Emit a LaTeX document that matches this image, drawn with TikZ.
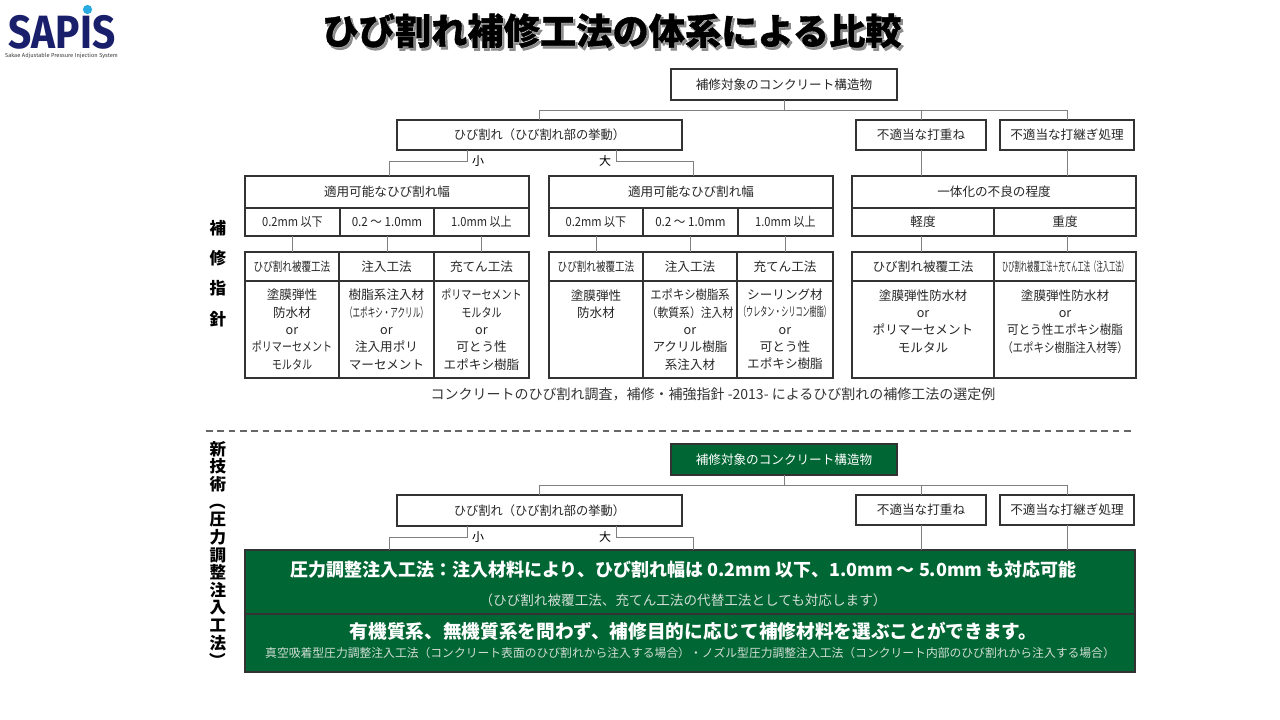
\documentclass[tikz,border=0pt]{standalone}
\usepackage{fontspec}
\setmainfont{Noto Sans CJK JP}
\newfontfamily\logofont{Fira Sans}
\newfontfamily\shadowface[BoldFeatures={FakeBold=3}]{Noto Sans CJK JP}
\newfontfamily\haloface[BoldFeatures={FakeBold=2.5}]{Noto Sans CJK JP}
\newfontfamily\titleface[BoldFeatures={FakeBold=1}]{Noto Sans CJK JP}
\definecolor{sapisgreen}{HTML}{006633}
\definecolor{sapisnavy}{HTML}{1A1F6B}
\definecolor{sapisblue}{HTML}{29ABE2}
\definecolor{palegreen}{HTML}{D3DDD6}
\tikzset{every picture/.style={x=0.75pt,y=-0.75pt,line width=1pt}}
\tikzset{box/.style 2 args={draw=black!80,line width=0.85pt,fill=white,text=black!85,minimum width=#1*0.75pt,minimum height=#2*0.75pt,inner sep=0pt,outer sep=0pt,align=center,font=\fontsize{9.45}{13}\selectfont}}
\tikzset{greenbox/.style={fill=sapisgreen,text=white}}
\tikzset{link/.style={draw=black!50,line width=0.65pt}}
\tikzset{side label/.style={align=center,inner sep=0pt,font=\bfseries\fontsize{12.4}{#1}\selectfont}}
\tikzset{panel text/.style={inner sep=0pt,text=white,font=\bfseries\fontsize{#1}{16}\selectfont}}
\tikzset{panel note/.style={inner sep=0pt,text=palegreen,font=\fontsize{#1}{12}\selectfont}}
\newcommand{\cell}[6]{\node[box={#4}{#5}] (#1) at (#2,#3) {#6};}
\newcommand{\hs}[2]{\scalebox{#1}[1]{#2}}
\newcommand{\titletext}{ひび割れ補修工法の体系による比較}
\begin{document}
\begin{tikzpicture}
    \useasboundingbox (0,0) rectangle (1280,720);
    \fill[sapisblue] (87.5,9.5) circle (4.6) coordinate (logodot);
    \node[inner sep=0pt,text=sapisnavy,font=\logofont\bfseries\fontsize{35}{35}\selectfont] (logo) at (62,32) {\hs{0.87}{SAPIS}};
    \node[inner sep=0pt,text=black!75,font=\logofont\fontsize{4.3}{5}\selectfont] (logosub) at (61.5,56) {Sakae Adjustable Pressure Injection System};
    \node[inner sep=0pt,font=\bfseries\fontsize{27.2}{30}\selectfont] (title) at (612,32) {\rlap{\raisebox{-1.8pt}{\hspace{1.5pt}\shadowface\bfseries\color{black!45}\titletext}}\rlap{\haloface\bfseries\color{white}\titletext}\titleface\bfseries\titletext};

    \cell{root}{784}{84.5}{226}{31}{補修対象のコンクリート構造物}
    \cell{crack}{539.5}{135}{285}{30}{\hs{0.97}{ひび割れ（ひび割れ部の挙動）}}
    \cell{ift}{921}{135}{130}{30}{不適当な打重ね}
    \cell{joint}{1067}{135}{134}{30}{不適当な打継ぎ処理}
    \node[inner sep=0pt,font=\fontsize{9}{10}\selectfont] (small) at (478,161) {小};
    \node[inner sep=0pt,font=\fontsize{9}{10}\selectfont] (large) at (605,161) {大};

    \cell{heada}{387}{192}{284}{32}{適用可能なひび割れ幅}
    \cell{wa}{292.5}{222}{95}{28}{\hs{0.88}{0.2mm 以下}}
    \cell{wb}{387}{222}{94}{28}{\hs{0.92}{0.2 ～ 1.0mm}}
    \cell{wc}{481.5}{222}{95}{28}{\hs{0.88}{1.0mm 以上}}
    \cell{ma}{292}{266.5}{94}{29}{\hs{0.76}{ひび割れ被覆工法}}
    \cell{mb}{386.5}{266.5}{95}{29}{注入工法}
    \cell{mc}{481.5}{266.5}{95}{29}{充てん工法}
    \cell{ba}{292}{329.5}{94}{97}{塗膜弾性\\防水材\\or\\\hs{0.8}{ポリマーセメント}\\\hs{0.8}{モルタル}}
    \cell{bb}{386.5}{329.5}{95}{97}{樹脂系注入材\\\hs{0.6}{（エポキシ・アクリル）}\\or\\注入用ポリ\\マーセメント}
    \cell{bc}{481.5}{329.5}{95}{97}{\hs{0.8}{ポリマーセメント}\\\hs{0.8}{モルタル}\\or\\可とう性\\エポキシ樹脂}

    \cell{headb}{691}{192}{284}{32}{適用可能なひび割れ幅}
    \cell{wd}{596}{222}{94}{28}{\hs{0.88}{0.2mm 以下}}
    \cell{we}{690.5}{222}{95}{28}{\hs{0.92}{0.2 ～ 1.0mm}}
    \cell{wf}{785.5}{222}{95}{28}{\hs{0.88}{1.0mm 以上}}
    \cell{md}{596}{266.5}{94}{29}{\hs{0.76}{ひび割れ被覆工法}}
    \cell{me}{690}{266.5}{94}{29}{注入工法}
    \cell{mf}{785}{266.5}{96}{29}{充てん工法}
    \cell{bd}{596}{329.5}{94}{97}{塗膜弾性\\防水材\\~\\~\\~}
    \cell{be}{690}{329.5}{94}{97}{\hs{0.9}{エポキシ樹脂系}\\\hs{0.86}{（軟質系）注入材}\\or\\アクリル樹脂\\系注入材}
    \cell{bf}{785}{329.5}{96}{97}{シーリング材\\\hs{0.56}{（ウレタン・シリコン樹脂）}\\or\\可とう性\\エポキシ樹脂}

    \cell{headc}{994}{192}{284}{32}{一体化の不良の程度}
    \cell{wg}{923}{222}{142}{28}{軽度}
    \cell{wh}{1065}{222}{142}{28}{重度}
    \cell{mg}{923}{266.5}{142}{29}{ひび割れ被覆工法}
    \cell{mh}{1065}{266.5}{142}{29}{\hs{0.5}{ひび割れ被覆工法＋充てん工法（注入工法）}}
    \cell{bg}{923}{329.5}{142}{97}{塗膜弾性防水材\\or\\ポリマーセメント\\モルタル\\~}
    \cell{bh}{1065}{329.5}{142}{97}{塗膜弾性防水材\\or\\\hs{0.92}{可とう性エポキシ樹脂}\\\hs{0.83}{（エポキシ樹脂注入材等）}\\~}

    \node[inner sep=0pt,text=black!80,font=\fontsize{10.5}{12}\selectfont] (caption) at (713,394) {コンクリートのひび割れ調査，補修・補強指針 -2013- によるひび割れの補修工法の選定例};
    \node[side label=22.7] (guide) at (218,273.5) {補\\修\\指\\針};
    \coordinate (dashl) at (206,431);
    \coordinate (dashr) at (1134,431);
    \draw[draw=black!60,line width=0.8pt,dash pattern=on 5pt off 3.5pt] (dashl) -- (dashr);

    \coordinate (bartop) at (784,110);
    \coordinate (smalltop) at (467,161);
    \coordinate (largetop) at (616,161);
    \draw[link] (root.south) -- (bartop) -| (crack.north);
    \draw[link] (bartop) -| (ift.north);
    \draw[link] (bartop) -| (joint.north);
    \draw[link] (crack.south -| smalltop) -- (smalltop) -| ([xshift=1.5pt]heada.north);
    \draw[link] (crack.south -| largetop) -- (largetop) -| ([xshift=1.5pt]headb.north);
    \draw[link] (ift.south) -- (ift.south |- headc.north);
    \draw[link] (joint.south) -- (joint.south |- headc.north);
    \draw[link] (wa.south) -- (wa.south |- ma.north);
    \draw[link] (wb.south) -- (wb.south |- mb.north);
    \draw[link] (wc.south) -- (wc.south |- mc.north);
    \draw[link] (wd.south) -- (wd.south |- md.north);
    \draw[link] (we.south) -- (we.south |- me.north);
    \draw[link] (wf.south) -- (wf.south |- mf.north);
    \draw[link] (wg.south -| ift) -- (mg.north -| ift);
    \draw[link] (wh.south -| joint) -- (mh.north -| joint);

    \node[box={226}{31},greenbox] (rootg) at (784,459.5) {補修対象のコンクリート構造物};
    \cell{crackn}{539.5}{510.5}{285}{31}{\hs{0.97}{ひび割れ（ひび割れ部の挙動）}}
    \cell{iftn}{921}{510}{130}{30}{不適当な打重ね}
    \cell{jointn}{1067}{510}{134}{30}{不適当な打継ぎ処理}
    \node[inner sep=0pt,font=\fontsize{9}{10}\selectfont] (smalln) at (478,537) {小};
    \node[inner sep=0pt,font=\fontsize{9}{10}\selectfont] (largen) at (605,537) {大};
    \node[box={890}{64},greenbox] (panela) at (690,582) {};
    \node[box={890}{58},greenbox] (panelb) at (690,643) {};
    \node[panel text=13.5] (texta) at (683.5,570) {圧力調整注入工法：注入材料により、ひび割れ幅は 0.2mm 以下、1.0mm ～ 5.0mm も対応可能};
    \node[panel note=10.2] (notea) at (683,600) {（ひび割れ被覆工法、充てん工法の代替工法としても対応します）};
    \node[panel text=14] (textb) at (693.5,631) {有機質系、無機質系を問わず、補修目的に応じて補修材料を選ぶことができます。};
    \node[panel note=8.85] (noteb) at (690,653) {真空吸着型圧力調整注入工法（コンクリート表面のひび割れから注入する場合）・ノズル型圧力調整注入工法（コンクリート内部のひび割れから注入する場合）};
    \node[side label=13.2] (newtech) at (218,555) {新\\技\\術\\\rotatebox[origin=c]{-90}{（}\\圧\\力\\調\\整\\注\\入\\工\\法\\\rotatebox[origin=c]{-90}{）}};

    \coordinate (barlow) at (784,485);
    \coordinate (smalllow) at (467,537);
    \coordinate (largelow) at (616,537);
    \draw[link] (rootg.south) -- (barlow) -| (crackn.north);
    \draw[link] (barlow) -| (iftn.north);
    \draw[link] (barlow) -| (jointn.north);
    \draw[link] (crackn.south -| smalllow) -- (smalllow) -| ([xshift=1.5pt]panela.north -| heada);
    \draw[link] (crackn.south -| largelow) -- (largelow) -| ([xshift=1.5pt]panela.north -| headb);
    \draw[link] (iftn.south) -- (iftn.south |- panela.north);
    \draw[link] (jointn.south) -- (jointn.south |- panela.north);
\end{tikzpicture}
\end{document}
